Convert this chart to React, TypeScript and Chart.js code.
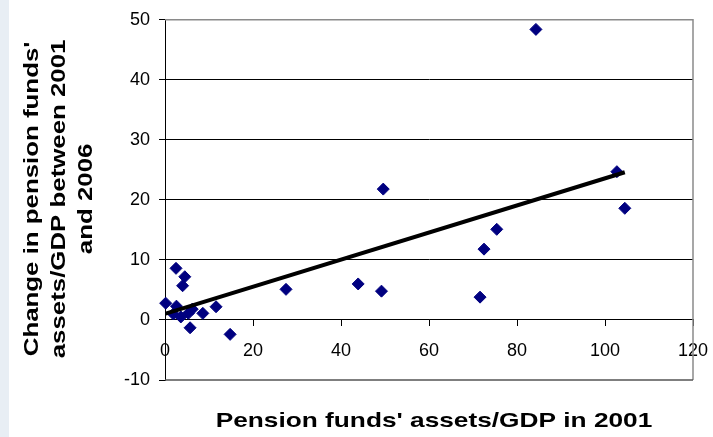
import React, { useEffect, useRef } from "react";
import { Chart, registerables } from "chart.js";

Chart.register(...registerables);

// Pension funds' assets/GDP in 2001 (x) and change between 2001 and 2006 (y)
const assets2001 = [
  0.15, 2.5, 4.5, 4.0, 2.6, 1.9, 3.6, 5.3, 6.2, 8.6, 11.6, 5.7, 14.8, 27.5,
  43.9, 49.6, 49.2, 71.6, 72.5, 75.4, 84.3, 102.7, 104.5,
];
const change0106 = [
  2.8, 8.6, 7.2, 5.7, 2.3, 1.0, 0.5, 1.1, 1.8, 1.1, 2.2, -1.3, -2.4, 5.1,
  6.0, 21.8, 4.8, 3.8, 11.8, 15.1, 48.4, 24.7, 18.6,
];
// Linear trend line end points
const trendX = [0.15, 104.5];
const trendY = [1.05, 24.6];

const xTicks = [0, 20, 40, 60, 80, 100, 120];
const yTicks = [-10, 0, 10, 20, 30, 40, 50];

const xTitle = "Pension funds' assets/GDP in 2001";
const yTitle = ["Change in pension funds'", "assets/GDP between 2001", "and 2006"];

const FONT = '"Liberation Sans", Arial, sans-serif';

const frame = {
  id: "frame",
  beforeDraw(chart: any) {
    const { ctx, height } = chart;
    ctx.save();
    ctx.fillStyle = "#e8eef4";
    ctx.fillRect(0, 0, 9, height);
    ctx.restore();
  },
  beforeDatasetsDraw(chart: any) {
    const { ctx, chartArea: a } = chart;
    ctx.save();
    ctx.lineWidth = 1.5;
    ctx.strokeStyle = "#8a8a8a";
    ctx.beginPath();
    ctx.moveTo(a.left, a.top);
    ctx.lineTo(a.right, a.top);
    ctx.lineTo(a.right, a.bottom);
    ctx.stroke();
    ctx.strokeStyle = "#555";
    ctx.beginPath();
    ctx.moveTo(a.left, a.bottom);
    ctx.lineTo(a.right, a.bottom);
    ctx.stroke();
    ctx.restore();
  },
  afterDraw(chart: any) {
    const { ctx, chartArea: a } = chart;
    ctx.save();
    ctx.fillStyle = "#000";
    ctx.font = `bold 21px ${FONT}`;
    ctx.textAlign = "center";
    ctx.textBaseline = "alphabetic";
    const cx = (a.left + a.right) / 2;
    ctx.save();
    ctx.translate(cx + 5, a.bottom + 47);
    ctx.scale(1.25, 1);
    ctx.fillText(xTitle, 0, 0);
    ctx.restore();
    const cy = (a.top + a.bottom) / 2 - 1;
    yTitle.forEach((line, i) => {
      ctx.save();
      ctx.translate(a.left - 127 + i * 27, cy);
      ctx.rotate(-Math.PI / 2);
      ctx.scale(1.23, 1);
      ctx.fillText(line, 0, 0);
      ctx.restore();
    });
    ctx.restore();
  },
};

export default function App() {
  const ref = useRef<HTMLCanvasElement | null>(null);

  useEffect(() => {
    if (!ref.current) return;
    const points = assets2001.map((x, i) => ({ x, y: change0106[i] }));
    const trend = trendX.map((x, i) => ({ x, y: trendY[i] }));
    const chart = new Chart(ref.current, {
      type: "scatter",
      data: {
        datasets: [
          {
            type: "line",
            label: "Trend",
            data: trend,
            borderColor: "#000",
            borderWidth: 4,
            pointRadius: 0,
            fill: false,
          } as any,
          {
            label: "Countries",
            data: points,
            pointStyle: "rectRot",
            pointRadius: 6,
            pointHoverRadius: 6,
            backgroundColor: "#000080",
            borderColor: "#000080",
            borderWidth: 1,
            clip: false,
          } as any,
        ],
      },
      options: {
        animation: false,
        responsive: false,
        maintainAspectRatio: false,
        devicePixelRatio: 1,
        layout: { padding: { left: 0, top: 19, right: 20, bottom: 57 } },
        plugins: {
          legend: { display: false },
          tooltip: { enabled: false },
          title: { display: false },
        },
        scales: {
          x: {
            type: "linear",
            min: 0,
            max: 120,
            position: { y: 0 } as any,
            afterBuildTicks: (s: any) => {
              s.ticks = xTicks.map((v) => ({ value: v }));
            },
            afterFit: (s: any) => {
              s.height = 0;
              s.paddingLeft = 0;
              s.paddingRight = 0;
            },
            ticks: {
              font: { family: FONT, size: 18 },
              color: "#000",
              padding: 14,
              maxRotation: 0,
              autoSkip: false,
            },
            grid: {
              display: true,
              drawOnChartArea: false,
              drawTicks: true,
              tickLength: 6,
              color: "#000",
              tickColor: "#000",
            },
            border: { display: true, color: "#000", width: 1 },
          },
          y: {
            type: "linear",
            min: -10,
            max: 50,
            position: "left",
            afterBuildTicks: (s: any) => {
              s.ticks = yTicks.map((v) => ({ value: v }));
            },
            afterFit: (s: any) => {
              s.width = 165;
            },
            ticks: {
              font: { family: FONT, size: 18 },
              color: "#000",
              padding: 9,
              autoSkip: false,
            },
            grid: {
              color: (c: any) =>
                c.tick && (c.tick.value === 50 || c.tick.value === -10)
                  ? "rgba(0,0,0,0)"
                  : "#000",
              tickColor: "#000",
              tickLength: 6,
              lineWidth: 1,
            },
            border: { display: true, color: "#000", width: 1 },
          },
        },
      },
      plugins: [frame],
    });
    return () => chart.destroy();
  }, []);

  return (
    <div
      style={{
        position: "absolute",
        left: 0,
        top: 0,
        width: 713,
        height: 437,
        background: "#fff",
        overflow: "hidden",
      }}
    >
      <canvas ref={ref} width={713} height={437} style={{ display: "block" }} />
    </div>
  );
}
